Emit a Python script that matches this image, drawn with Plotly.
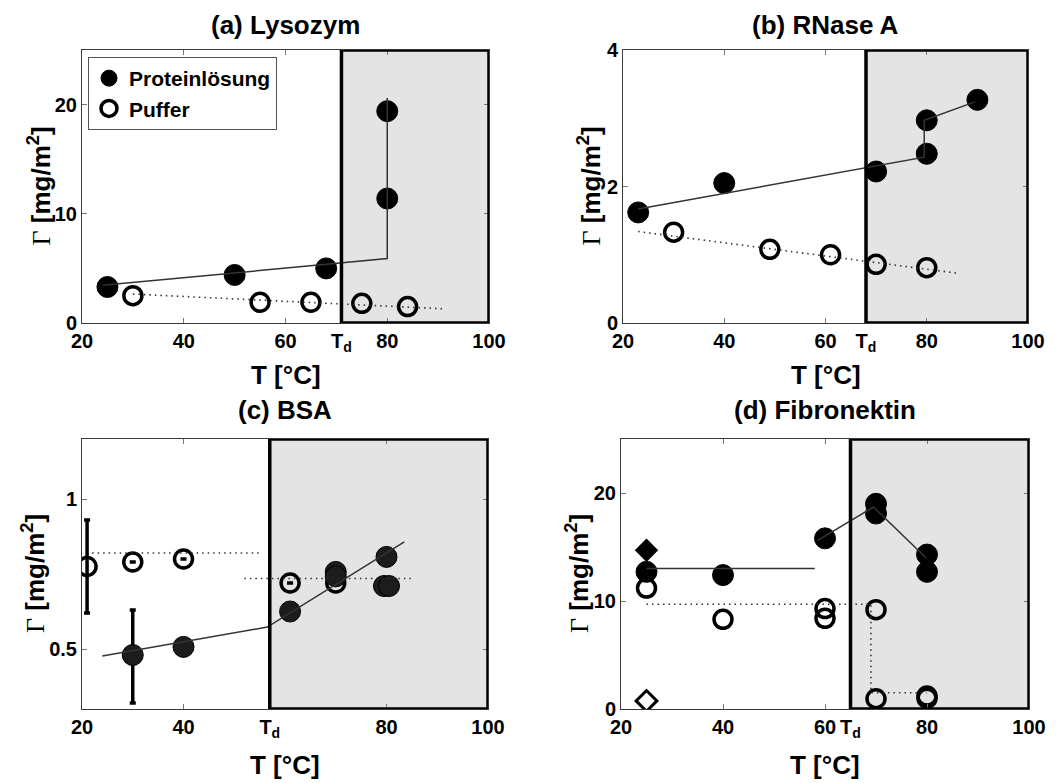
import plotly.graph_objects as go

# ---------------- data ----------------
# (a) Lysozym
a_prot_T = [25, 50, 68, 80, 80]
a_prot_G = [3.3, 4.4, 5.0, 11.4, 19.4]
a_buf_T = [30, 55, 65, 75, 84]
a_buf_G = [2.5, 1.9, 1.9, 1.8, 1.5]
a_fit_T = [24, 80, 80]
a_fit_G = [3.45, 5.9, 20.6]
a_bfit_T = [30, 91]
a_bfit_G = [2.65, 1.3]
a_Td = 71

# (b) RNase A
b_prot_T = [23, 40, 70, 80, 80, 90]
b_prot_G = [1.62, 2.05, 2.22, 2.48, 2.97, 3.27]
b_buf_T = [30, 49, 61, 70, 80]
b_buf_G = [1.33, 1.08, 1.0, 0.86, 0.81]
b_fit_T = [23, 79.5, 79.5, 89.5]
b_fit_G = [1.67, 2.43, 2.97, 3.24]
b_bfit_T = [23, 86]
b_bfit_G = [1.34, 0.73]
b_Td = 68

# (c) BSA
c_prot_T = [30, 40, 61, 70, 70, 80, 79.5, 80.5]
c_prot_G = [0.48, 0.507, 0.625, 0.757, 0.742, 0.807, 0.71, 0.71]
c_prot_err_plus = [0.15, 0, 0, 0, 0, 0, 0, 0]
c_prot_err_minus = [0.16, 0, 0, 0, 0, 0, 0, 0]
c_buf_T = [21, 30, 40, 61, 70]
c_buf_G = [0.775, 0.79, 0.80, 0.72, 0.72]
c_buf_err_plus = [0.155, 0, 0, 0, 0]
c_buf_err_minus = [0.155, 0, 0, 0, 0]
c_fit_T = [24, 56.5, 83.5]
c_fit_G = [0.477, 0.573, 0.857]
c_bfit_T = [22, 55, None, 52, 85]
c_bfit_G = [0.82, 0.82, None, 0.735, 0.735]
c_Td = 57

# (d) Fibronektin
d_prot_T = [25, 40, 60, 70, 70, 80, 80]
d_prot_G = [12.7, 12.4, 15.8, 19.0, 18.1, 14.3, 12.7]
d_prot_dia_T = [25]
d_prot_dia_G = [14.7]
d_buf_T = [25, 40, 60, 60, 70, 70, 80, 80]
d_buf_G = [11.2, 8.3, 9.3, 8.4, 9.2, 0.95, 1.2, 1.0]
d_buf_dia_T = [25]
d_buf_dia_G = [0.75]
d_fit_T = [25, 58, None, 58.5, 69.5, 79.8]
d_fit_G = [13.0, 13.0, None, 15.6, 18.7, 14.0]
d_bfit_T = [25, 69, 69, 80]
d_bfit_G = [9.7, 9.7, 1.5, 1.5]
d_Td = 65

titles = ["(a) Lysozym", "(b) RNase A", "(c) BSA", "(d) Fibronektin"]

# ---------------- styling ----------------
W, H = 1056, 783
SANS = "Liberation Sans"
SERIF = "Liberation Serif"
SHADE = "#e4e4e4"
FRAME = "#3a3a3a"
DOTTED = "1.5px,4px"

# axes boxes in pixels: (left, right, top, bottom)
boxes = [(82, 489, 50, 323), (623, 1028, 50, 323),
         (82, 488, 439, 709), (621, 1029, 439, 709)]

fig = go.Figure()


def add_panel(i, prot_T, prot_G, buf_T, buf_G, fit_T, fit_G, bfit_T, bfit_G,
              prot_color="black", prot_err=None, buf_err=None, legend=False):
    xa = "x" if i == 1 else f"x{i}"
    ya = "y" if i == 1 else f"y{i}"
    prot = dict(x=prot_T, y=prot_G, mode="markers", xaxis=xa, yaxis=ya,
                name="Proteinlösung", showlegend=legend, legendrank=1,
                marker=dict(symbol="circle", size=21, color=prot_color,
                            line=dict(color="black", width=1)))
    if prot_err is not None:
        prot["error_y"] = dict(type="data", symmetric=False, array=prot_err[0],
                               arrayminus=prot_err[1], color="black",
                               thickness=3.5, width=3)
    buf = dict(x=buf_T, y=buf_G, mode="markers", xaxis=xa, yaxis=ya,
               name="Puffer", showlegend=legend, legendrank=2,
               marker=dict(symbol="circle-open", size=18, color="black",
                           line=dict(color="black", width=3.5)))
    if buf_err is not None:
        buf["error_y"] = dict(type="data", symmetric=False, array=buf_err[0],
                              arrayminus=buf_err[1], color="black",
                              thickness=3.5, width=3)
    fig.add_trace(go.Scatter(**buf))
    fig.add_trace(go.Scatter(**prot))
    fig.add_trace(go.Scatter(x=fit_T, y=fit_G, mode="lines", xaxis=xa, yaxis=ya,
                             showlegend=False, hoverinfo="skip",
                             line=dict(color="#333333", width=1.5)))
    fig.add_trace(go.Scatter(x=bfit_T, y=bfit_G, mode="lines", xaxis=xa, yaxis=ya,
                             showlegend=False, hoverinfo="skip",
                             line=dict(color="#333333", width=1.6, dash=DOTTED)))


add_panel(1, a_prot_T, a_prot_G, a_buf_T, a_buf_G, a_fit_T, a_fit_G,
          a_bfit_T, a_bfit_G, legend=True)
add_panel(2, b_prot_T, b_prot_G, b_buf_T, b_buf_G, b_fit_T, b_fit_G,
          b_bfit_T, b_bfit_G)
add_panel(3, c_prot_T, c_prot_G, c_buf_T, c_buf_G, c_fit_T, c_fit_G,
          c_bfit_T, c_bfit_G, prot_color="#1c1c1c",
          prot_err=(c_prot_err_plus, c_prot_err_minus),
          buf_err=(c_buf_err_plus, c_buf_err_minus))
add_panel(4, d_prot_T, d_prot_G, d_buf_T, d_buf_G, d_fit_T, d_fit_G,
          d_bfit_T, d_bfit_G)

# diamond markers at room temperature in (d)
fig.add_trace(go.Scatter(x=d_prot_dia_T, y=d_prot_dia_G, mode="markers",
                         xaxis="x4", yaxis="y4", showlegend=False,
                         marker=dict(symbol="diamond", size=18, color="black")))
fig.add_trace(go.Scatter(x=d_buf_dia_T, y=d_buf_dia_G, mode="markers",
                         xaxis="x4", yaxis="y4", showlegend=False,
                         marker=dict(symbol="diamond-open", size=16, color="black",
                                     line=dict(color="black", width=3))))

Tds = [a_Td, b_Td, c_Td, d_Td]
yranges = [[0, 25], [0, 4], [0.3, 1.2], [0, 25]]
ytickvals = [[0, 10, 20], [0, 2, 4], [0.5, 1], [0, 10, 20]]
yticktext = [["0", "10", "20"], ["0", "2", "4"], ["0.5", "1"], ["0", "10", "20"]]
td_txt = "T<sub>d</sub>"
xtickvals = [[20, 40, 60, a_Td, 80, 100], [20, 40, 60, b_Td, 80, 100],
             [20, 40, c_Td, 80, 100], [20, 40, 60, d_Td, 80, 100]]
xticktext = [["20", "40", "60", td_txt, "80", "100"],
             ["20", "40", "60", td_txt, "80", "100"],
             ["20", "40", td_txt, "80", "100"],
             ["20", "40", "60", td_txt, "80", "100"]]

tickfont = dict(family=SANS, size=20, color="black", weight="bold")
shapes = []
annotations = []
layout_axes = {}
for k, (l, r, t, b) in enumerate(boxes):
    n = k + 1
    xname = "xaxis" if n == 1 else f"xaxis{n}"
    yname = "yaxis" if n == 1 else f"yaxis{n}"
    xa = "x" if n == 1 else f"x{n}"
    ya = "y" if n == 1 else f"y{n}"
    common = dict(showgrid=False, zeroline=False, showline=True, linecolor=FRAME,
                  linewidth=1, mirror="ticks", ticks="inside", ticklen=5,
                  tickcolor="#777777", tickfont=tickfont, fixedrange=True,
                  automargin=False)
    layout_axes[xname] = dict(domain=[l / W, r / W], range=[20, 100],
                              tickmode="array", tickvals=xtickvals[k],
                              ticktext=xticktext[k], anchor=ya, **common)
    layout_axes[yname] = dict(domain=[1 - b / H, 1 - t / H], range=yranges[k],
                              tickmode="array", tickvals=ytickvals[k],
                              ticktext=yticktext[k], anchor=xa, **common)
    y0, y1 = yranges[k]
    # denatured region: shaded background and heavy outline
    shapes.append(dict(type="rect", xref=xa, yref=ya, x0=Tds[k], x1=100, y0=y0, y1=y1,
                       fillcolor=SHADE, line=dict(width=0), layer="below"))
    shapes.append(dict(type="rect", xref=xa, yref=ya, x0=Tds[k], x1=100, y0=y0, y1=y1,
                       fillcolor="rgba(0,0,0,0)", line=dict(color="black", width=3.5),
                       layer="above"))
    cx = (l + r) / 2
    title_y = 25 if k < 2 else 410
    annotations.append(dict(text=f"<b>{titles[k]}</b>", xref="paper", yref="paper",
                            x=cx / W, y=1 - title_y / H, showarrow=False,
                            xanchor="center", yanchor="middle",
                            font=dict(family=SANS, size=26, color="black")))
    xt_y = 375 if k < 2 else 765
    annotations.append(dict(text="<b>T [°C]</b>", xref="paper", yref="paper",
                            x=cx / W, y=1 - xt_y / H, showarrow=False,
                            xanchor="center", yanchor="middle",
                            font=dict(family=SANS, size=26, color="black")))
    yt_x = [40, 590, 33, 577][k]
    annotations.append(dict(
        text=(f"<span style=\"font-family:'{SERIF}';font-weight:normal\">Γ</span>"
              " <b>[mg/m<sup>2</sup>]</b>"),
        xref="paper", yref="paper", x=yt_x / W, y=1 - (t + b) / 2 / H,
        showarrow=False, textangle=-90, xanchor="center", yanchor="middle",
        font=dict(family=SANS, size=26, color="black")))

fig.update_layout(
    width=W, height=H,
    margin=dict(l=0, r=0, t=0, b=0, autoexpand=False),
    paper_bgcolor="white", plot_bgcolor="white",
    shapes=shapes, annotations=annotations,
    showlegend=True,
    legend=dict(x=88 / W, y=1 - 57 / H, xanchor="left", yanchor="top",
                bgcolor="white", bordercolor="#555555", borderwidth=1,
                font=dict(family=SANS, size=21, color="black", weight="bold"),
                tracegroupgap=0, itemwidth=30, traceorder="normal"),
    **layout_axes,
)

fig.write_html("out.html")
